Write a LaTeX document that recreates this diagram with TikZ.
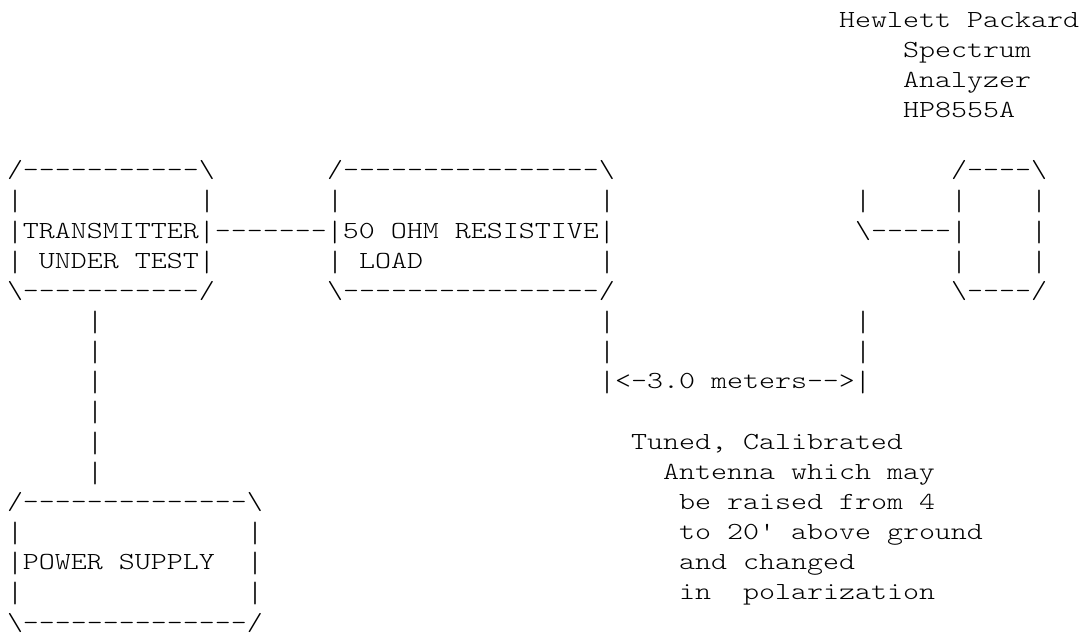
\documentclass[tikz,border=0pt]{standalone}
\usepackage{fontspec}
\setmonofont{lmmonolt10-regular.otf}[FakeStretch=1.2439]
\tikzset{
  asc/.style={anchor=base west, inner sep=0pt, outer sep=0pt,
    font=\ttfamily\fontsize{24.5}{30}\selectfont, text=black},
}
% fragment: name, column, row, text
\newcommand\frag[4]{\node[asc] (#1) at ({7+16*(#2)},{-(27+30.15*(#3))}) {#4};}
\newcommand\bs{\textbackslash}
\newcommand\vb{\raisebox{-3pt}{\scalebox{1}[1.2]{|}}}
\begin{document}
\begin{tikzpicture}[x=1pt,y=1pt]
\fill[white] (0,0) rectangle (1088,-635);
\useasboundingbox (0,0) rectangle (1088,-635);
% spectrum analyzer caption
\frag{hpA}{52}{0}{Hewlett Packard}
\frag{hpB}{56}{1}{Spectrum}
\frag{hpC}{56}{2}{Analyzer}
\frag{hpD}{56}{3}{HP8555A}
% row 5 box tops
\frag{txTop}{0}{5}{/-----------\bs}
\frag{ldTop}{20}{5}{/----------------\bs}
\frag{saTop}{59}{5}{/----\bs}
% row 6
\frag{txL6}{0}{6}{\vb}
\frag{txR6}{12}{6}{\vb}
\frag{ldL6}{20}{6}{\vb}
\frag{ldR6}{37}{6}{\vb}
\frag{ant6}{53}{6}{\vb}
\frag{saL6}{59}{6}{\vb}
\frag{saR6}{64}{6}{\vb}
% row 7
\frag{row7}{0}{7}{\vb TRANSMITTER\vb-------\vb 50 OHM RESISTIVE\vb}
\frag{ant7}{53}{7}{\bs-----\vb}
\frag{saR7}{64}{7}{\vb}
% row 8
\frag{tx8}{0}{8}{\vb{} UNDER TEST\vb}
\frag{ld8}{20}{8}{\vb{} LOAD}
\frag{ldR8}{37}{8}{\vb}
\frag{saL8}{59}{8}{\vb}
\frag{saR8}{64}{8}{\vb}
% row 9 box bottoms
\frag{txBot}{0}{9}{\bs-----------/}
\frag{ldBot}{20}{9}{\bs----------------/}
\frag{saBot}{59}{9}{\bs----/}
% rows 10-12
\frag{pw10}{5}{10}{\vb}
\frag{ld10}{37}{10}{\vb}
\frag{an10}{53}{10}{\vb}
\frag{pw11}{5}{11}{\vb}
\frag{ld11}{37}{11}{\vb}
\frag{an11}{53}{11}{\vb}
\frag{pw12}{5}{12}{\vb}
\frag{dist}{37}{12}{\vb<-3.0 meters-->\vb}
\frag{pw13}{5}{13}{\vb}
\frag{pw14}{5}{14}{\vb}
\frag{antA}{39}{14}{Tuned, Calibrated}
\frag{pw15}{5}{15}{\vb}
\frag{antB}{41}{15}{Antenna which may}
% power supply
\frag{psTop}{0}{16}{/--------------\bs}
\frag{antC}{42}{16}{be raised from 4}
\frag{psL17}{0}{17}{\vb}
\frag{psR17}{15}{17}{\vb}
\frag{antD}{42}{17}{to 20' above ground}
\frag{ps18}{0}{18}{\vb POWER SUPPLY}
\frag{psR18}{15}{18}{\vb}
\frag{antE}{42}{18}{and changed}
\frag{psL19}{0}{19}{\vb}
\frag{psR19}{15}{19}{\vb}
\frag{antF}{42}{19}{in}
\frag{antG}{46}{19}{polarization}
\frag{psBot}{0}{20}{\bs--------------/}
\end{tikzpicture}
\end{document}
